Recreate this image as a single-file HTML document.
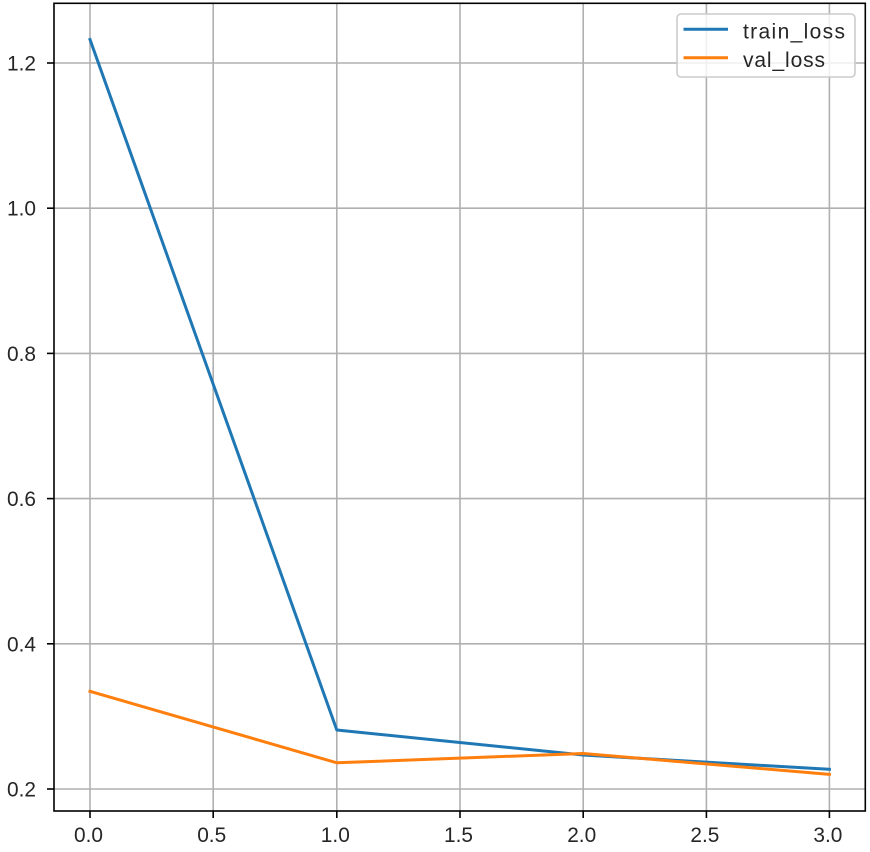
<!DOCTYPE html>
<html><head><meta charset="utf-8"><style>html,body{margin:0;padding:0;background:#fff;}svg{display:block;}</style></head>
<body>
<svg width="870" height="852" viewBox="0 0 870 852" xmlns="http://www.w3.org/2000/svg" font-family="Liberation Sans, sans-serif" font-size="21" fill="#262626">
<rect width="870" height="852" fill="#fff"/>
<!-- grid -->
<g stroke="#b0b0b0" stroke-width="1.6">
<line x1="90" y1="3.5" x2="90" y2="811"/>
<line x1="213.2" y1="3.5" x2="213.2" y2="811"/>
<line x1="336.8" y1="3.5" x2="336.8" y2="811"/>
<line x1="460" y1="3.5" x2="460" y2="811"/>
<line x1="583.2" y1="3.5" x2="583.2" y2="811"/>
<line x1="706.4" y1="3.5" x2="706.4" y2="811"/>
<line x1="829.4" y1="3.5" x2="829.4" y2="811"/>
<line x1="54" y1="789" x2="865" y2="789"/>
<line x1="54" y1="643.8" x2="865" y2="643.8"/>
<line x1="54" y1="498.6" x2="865" y2="498.6"/>
<line x1="54" y1="353.4" x2="865" y2="353.4"/>
<line x1="54" y1="208.2" x2="865" y2="208.2"/>
<line x1="54" y1="63" x2="865" y2="63"/>
</g>
<!-- series -->
<polyline fill="none" stroke="#1f77b4" stroke-width="3" stroke-linejoin="round" stroke-linecap="square" points="90,39.5 336.8,730 583.2,755 829.4,769.3"/>
<polyline fill="none" stroke="#ff7f0e" stroke-width="3" stroke-linejoin="round" stroke-linecap="square" points="90,691.3 336.8,762.8 583.2,753.5 829.4,774.4"/>
<!-- spines -->
<rect x="54" y="3.3" width="811.3" height="807.7" fill="none" stroke="#000" stroke-width="1.6"/>
<!-- ticks -->
<g stroke="#000" stroke-width="1.6">
<line x1="47" y1="789" x2="54" y2="789"/>
<line x1="47" y1="643.8" x2="54" y2="643.8"/>
<line x1="47" y1="498.6" x2="54" y2="498.6"/>
<line x1="47" y1="353.4" x2="54" y2="353.4"/>
<line x1="47" y1="208.2" x2="54" y2="208.2"/>
<line x1="47" y1="63" x2="54" y2="63"/>
<line x1="90" y1="811" x2="90" y2="818"/>
<line x1="213.2" y1="811" x2="213.2" y2="818"/>
<line x1="336.8" y1="811" x2="336.8" y2="818"/>
<line x1="460" y1="811" x2="460" y2="818"/>
<line x1="583.2" y1="811" x2="583.2" y2="818"/>
<line x1="706.4" y1="811" x2="706.4" y2="818"/>
<line x1="829.4" y1="811" x2="829.4" y2="818"/>
</g>
<!-- y labels -->
<g>
<text x="7" y="796.5" textLength="29" lengthAdjust="spacingAndGlyphs">0.2</text>
<text x="7" y="651.3" textLength="29" lengthAdjust="spacingAndGlyphs">0.4</text>
<text x="7" y="506.1" textLength="29" lengthAdjust="spacingAndGlyphs">0.6</text>
<text x="7" y="360.9" textLength="29" lengthAdjust="spacingAndGlyphs">0.8</text>
<text x="7" y="215.7" textLength="29" lengthAdjust="spacingAndGlyphs">1.0</text>
<text x="7" y="70.5" textLength="29" lengthAdjust="spacingAndGlyphs">1.2</text>
</g>
<!-- x labels -->
<g>
<text x="74" y="842" textLength="29" lengthAdjust="spacingAndGlyphs">0.0</text>
<text x="197.2" y="842" textLength="29" lengthAdjust="spacingAndGlyphs">0.5</text>
<text x="320.8" y="842" textLength="29" lengthAdjust="spacingAndGlyphs">1.0</text>
<text x="444" y="842" textLength="29" lengthAdjust="spacingAndGlyphs">1.5</text>
<text x="567.2" y="842" textLength="29" lengthAdjust="spacingAndGlyphs">2.0</text>
<text x="690.4" y="842" textLength="29" lengthAdjust="spacingAndGlyphs">2.5</text>
<text x="813.4" y="842" textLength="29" lengthAdjust="spacingAndGlyphs">3.0</text>
</g>
<!-- legend -->
<rect x="677" y="14" width="178" height="63" rx="4" fill="#fff" fill-opacity="0.8" stroke="#cccccc" stroke-width="1.6"/>
<line x1="683.5" y1="29.3" x2="728" y2="29.3" stroke="#1f77b4" stroke-width="3"/>
<line x1="683.5" y1="57.7" x2="728" y2="57.7" stroke="#ff7f0e" stroke-width="3"/>
<text x="743" y="38.5" textLength="102" lengthAdjust="spacing">train_loss</text>
<text x="743" y="67" textLength="82" lengthAdjust="spacing">val_loss</text>
</svg>
</body></html>
